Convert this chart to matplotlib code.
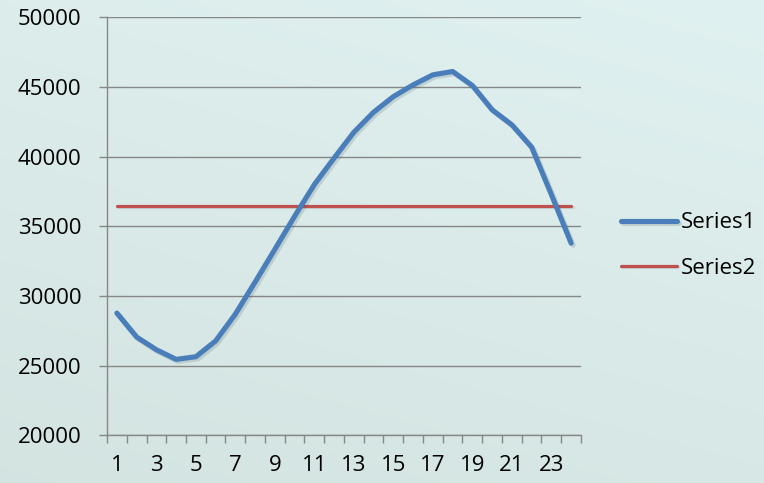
import numpy as np
import matplotlib
matplotlib.use("Agg")
import matplotlib.pyplot as plt
import matplotlib.patheffects as pe
from matplotlib.ticker import FixedLocator, NullFormatter

# Data
categories = list(range(1, 25))
series1 = [28770, 27050, 26140, 25450, 25640, 26770, 28700, 31000, 33350, 35720,
           38000, 39900, 41750, 43190, 44310, 45150, 45870, 46110, 45100, 43360,
           42280, 40680, 37280, 33790]
series2 = [36470] * 24
y_ticks = [20000, 25000, 30000, 35000, 40000, 45000, 50000]
x_labels = [str(c) for c in categories if c % 2 == 1]

plt.rcParams['font.family'] = ['Open Sans', 'DejaVu Sans']

W, H = 764, 483
fig = plt.figure(figsize=(W / 100, H / 100), dpi=100)

# Soft teal backdrop with a gentle gradient
bg = fig.add_axes([0, 0, 1, 1], zorder=-10)
yy, xx = np.mgrid[0:1:200j, 0:1:300j]
top = np.array([0.878, 0.945, 0.945])
bot = np.array([0.830, 0.893, 0.882])
t = (0.7 * yy + 0.3 * (1 - xx))[..., None]
img = top * (1 - t) + bot * t
bg.imshow(img, aspect='auto', extent=[0, 1, 0, 1], origin='upper')
bg.axis('off')

ax = fig.add_axes([107 / W, 1 - 435.3 / H, (581 - 107) / W, (435.3 - 17.3) / H])
ax.patch.set_alpha(0)

grid_c = '#878787'
blue = '#4a7ebb'
red = '#c0504d'

l1, = ax.plot(categories, series1, color=blue, lw=3.7, solid_capstyle='round',
              solid_joinstyle='round', zorder=4, label='Series1',
              path_effects=[pe.SimpleLineShadow(offset=(1.5, -1.5), alpha=0.15, shadow_color='#2a3a40'),
                            pe.Normal()])
l2, = ax.plot(categories, series2, color=red, lw=2.3, solid_capstyle='round',
              zorder=3, label='Series2',
              path_effects=[pe.SimpleLineShadow(offset=(1.0, -1.0), alpha=0.12, shadow_color='#2a3a40'),
                            pe.Normal()])

ax.set_xlim(0.5, 24.5)
ax.set_ylim(20000, 50000)

ax.set_yticks(y_ticks)
ax.set_yticklabels([str(v) for v in y_ticks])
ax.yaxis.grid(True, color=grid_c, lw=1.0)
ax.set_axisbelow(True)

# Category labels on odd categories, tick marks between categories
ax.xaxis.set_major_locator(FixedLocator([c for c in categories if c % 2 == 1]))
ax.set_xticklabels(x_labels)
ax.xaxis.set_minor_locator(FixedLocator([c - 0.5 for c in categories] + [24.5]))
ax.xaxis.set_minor_formatter(NullFormatter())
ax.tick_params(axis='x', which='major', length=0, pad=14, labelsize=16)
ax.tick_params(axis='x', which='minor', length=5.5, width=1.0, color=grid_c, direction='out')
ax.tick_params(axis='y', which='major', length=5.5, width=1.0, color=grid_c, pad=13, labelsize=16)

for s in ['top', 'right']:
    ax.spines[s].set_visible(False)
for s in ['left', 'bottom']:
    ax.spines[s].set_color(grid_c)
    ax.spines[s].set_linewidth(1.0)

leg = fig.legend(handles=[l1, l2], labels=['Series1', 'Series2'],
                 loc='center left', bbox_to_anchor=(621 / W, 1 - 245.5 / H),
                 frameon=False, fontsize=16, handlelength=2.5, handletextpad=0.2,
                 labelspacing=1.09, borderaxespad=0, borderpad=0)

fig.savefig('out.png', dpi=100)
